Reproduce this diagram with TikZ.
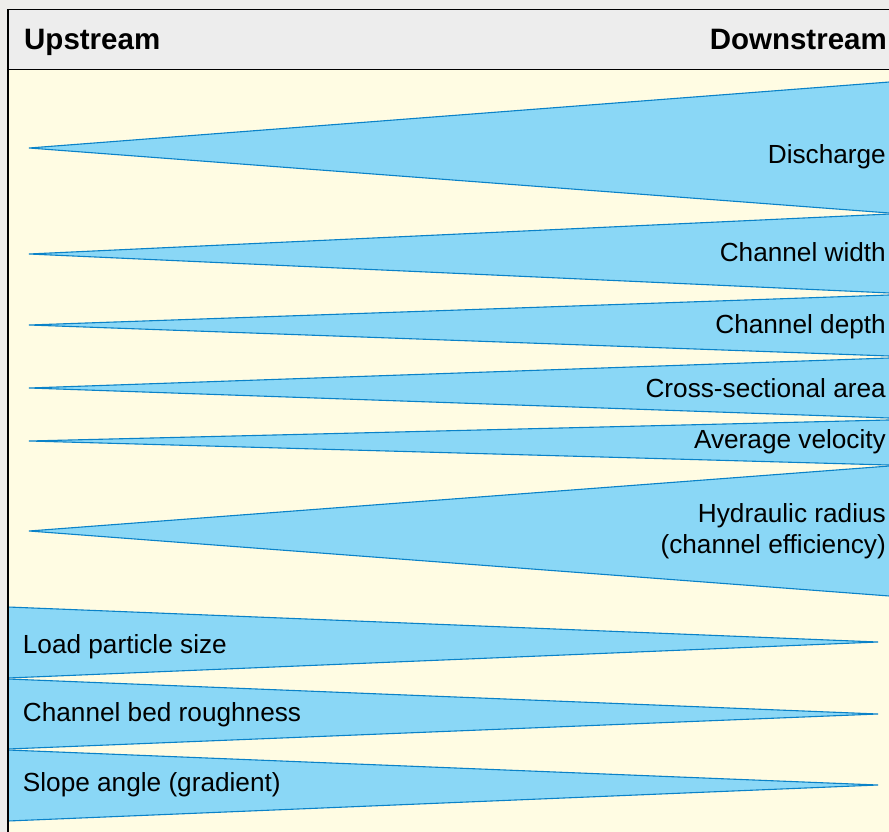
\documentclass[tikz,border=0pt]{standalone}
\usepackage{fontspec}
\setmainfont{Liberation Sans}
\definecolor{outergrey}{HTML}{EEEDEB}
\definecolor{headgrey}{HTML}{EDEDED}
\definecolor{cream}{HTML}{FFFCE3}
\definecolor{bluefill}{HTML}{8AD7F6}
\definecolor{bluestroke}{HTML}{0A82C8}
\tikzset{
  wedge/.style={fill=bluefill, draw=bluestroke, line width=1.1pt, line join=miter},
  frame/.style={draw=black, line width=1.3pt},
  headtxt/.style={inner sep=0pt, font=\fontsize{29.5}{34}\selectfont\bfseries},
  lbl/.style={inner sep=0pt, font=\fontsize{26.2}{30}\selectfont},
}
\begin{document}
\begin{tikzpicture}[x=1pt,y=-1pt]
\useasboundingbox (0,0) rectangle (889,832);
\fill[outergrey] (0,0) rectangle (889,832);
\fill[cream] (8,69.5) rectangle (892,834);
\fill[headgrey] (8,9.5) rectangle (892,69.5);

% upstream-pointing wedges (increase downstream)
\filldraw[wedge] (29,148) -- (892,81.8) -- (892,213.2) -- cycle;
\filldraw[wedge] (29,254) -- (892,213.9) -- (892,293.1) -- cycle;
\filldraw[wedge] (29,325) -- (892,294.9) -- (892,356.1) -- cycle;
\filldraw[wedge] (29,388) -- (892,357.9) -- (892,418.1) -- cycle;
\filldraw[wedge] (29,441) -- (892,419.9) -- (892,465.1) -- cycle;
\filldraw[wedge] (29,531) -- (892,465.8) -- (892,596.2) -- cycle;

% downstream-pointing wedges (decrease downstream)
\filldraw[wedge] (8,607) -- (878,642) -- (8,678) -- cycle;
\filldraw[wedge] (8,679) -- (878,714) -- (8,749) -- cycle;
\filldraw[wedge] (8,750) -- (878,785) -- (8,821) -- cycle;

% frame
\draw[frame] (892,9.5) -- (8,9.5) -- (8,834);
\draw[frame] (8,69.5) -- (892,69.5);

% header
\node[headtxt, anchor=base west] (up) at (24,49.3) {Upstream};
\node[headtxt, anchor=base east] (down) at (887,49.3) {Downstream};

% labels
\node[lbl, anchor=base east] (dis) at (886,164) {Discharge};
\node[lbl, anchor=base east] (wid) at (886,261.7) {Channel width};
\node[lbl, anchor=base east] (dep) at (886,333.3) {Channel depth};
\node[lbl, anchor=base east] (csa) at (886,397) {Cross-sectional area};
\node[lbl, anchor=base east] (vel) at (886,448.3) {Average velocity};
\node[lbl, anchor=base east] (hyd1) at (886,522.7) {Hydraulic radius};
\node[lbl, anchor=base east] (hyd2) at (886,553.3) {(channel efficiency)};
\node[lbl, anchor=base west] (load) at (22.7,653.3) {Load particle size};
\node[lbl, anchor=base west] (rough) at (22.7,721.7) {Channel bed roughness};
\node[lbl, anchor=base west] (slope) at (22.7,791.7) {Slope angle (gradient)};
\end{tikzpicture}
\end{document}
